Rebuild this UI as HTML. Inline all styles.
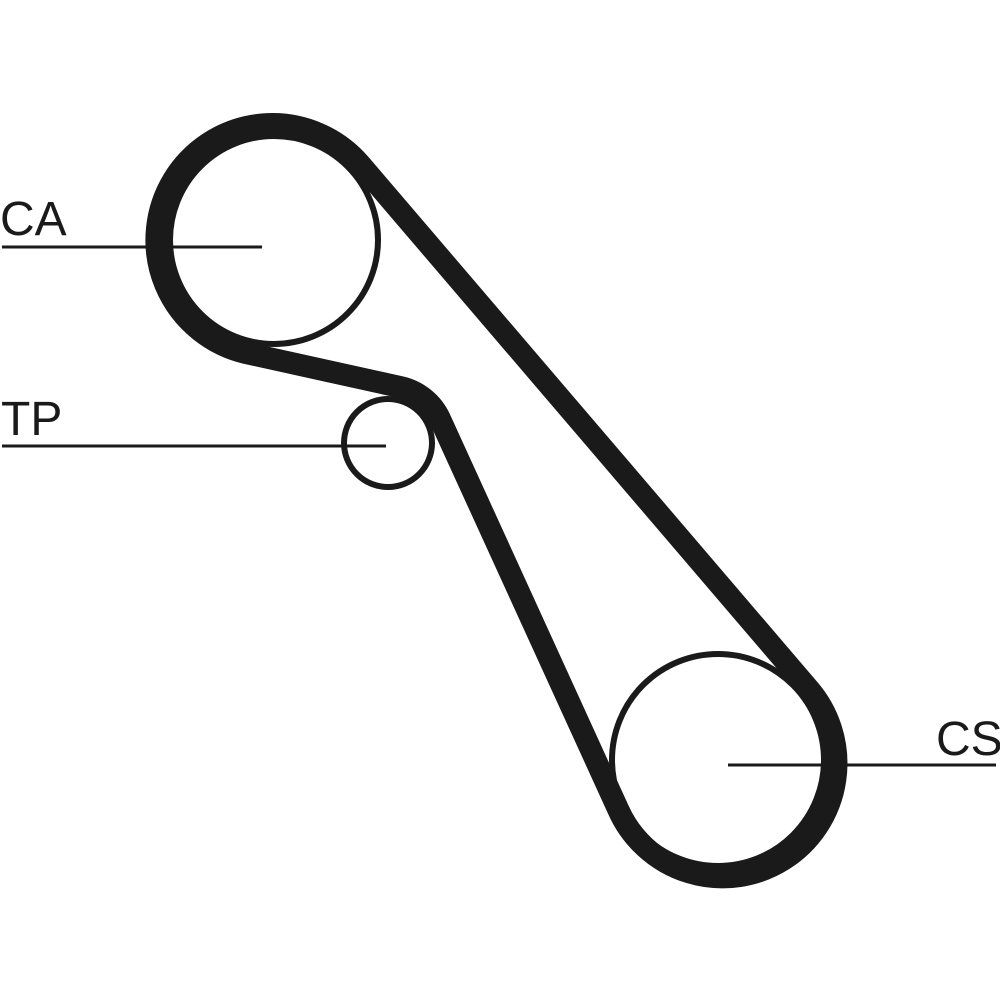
<!DOCTYPE html>
<html><head><meta charset="utf-8"><style>
html,body{margin:0;padding:0;background:#fff;}
svg{display:block;}
text{font-family:"Liberation Sans",sans-serif;fill:#1a1a1a;}
</style></head><body>
<svg width="1000" height="1000" viewBox="0 0 1000 1000" xmlns="http://www.w3.org/2000/svg">
<rect width="1000" height="1000" fill="#fff"/>
<!-- pulleys -->
<circle cx="274" cy="240" r="104" fill="none" stroke="#1a1a1a" stroke-width="6"/>
<circle cx="718" cy="760" r="106" fill="none" stroke="#1a1a1a" stroke-width="6"/>
<circle cx="388" cy="443" r="44" fill="none" stroke="#1a1a1a" stroke-width="6"/>
<!-- belt -->
<path d="M360,164 A116,116 0 1 0 246,353 L400,387 A57,57 0 0 1 440,419 L618,809 A114,114 0 1 0 808,688 Z"
 fill="none" stroke="#1a1a1a" stroke-width="22" stroke-linejoin="round"/>
<!-- leader lines -->
<line x1="2" y1="247" x2="262" y2="247" stroke="#1a1a1a" stroke-width="3"/>
<line x1="2" y1="446" x2="386" y2="446" stroke="#1a1a1a" stroke-width="3"/>
<line x1="728" y1="765" x2="996" y2="765" stroke="#1a1a1a" stroke-width="3"/>
<!-- labels -->
<text x="0" y="235" font-size="48">CA</text>
<text x="1" y="435" font-size="48">TP</text>
<text x="936" y="755" font-size="48">CS</text>
</svg>
</body></html>
